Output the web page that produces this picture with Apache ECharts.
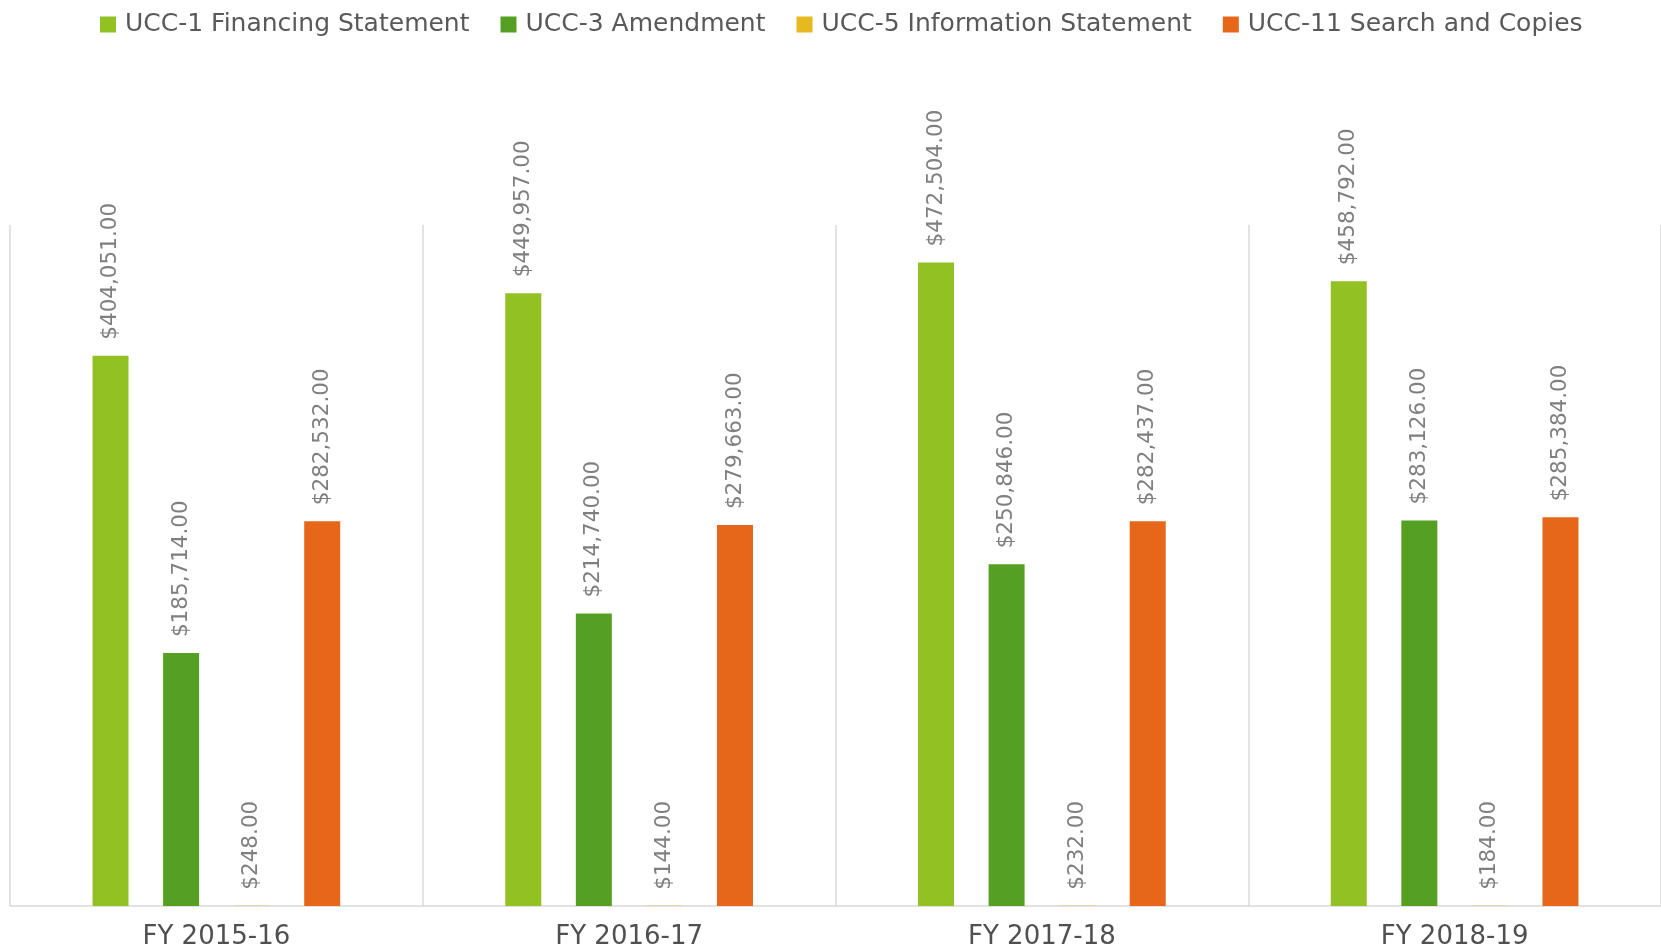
<!DOCTYPE html>
<html>
<head>
<meta charset="utf-8">
<script src="https://cdn.jsdelivr.net/npm/echarts@6/dist/echarts.min.js"></script>
<style>
html,body{margin:0;padding:0;background:#fff;}
#chart{width:1661px;height:950px;}
</style>
</head>
<body>
<div id="chart"></div>
<script>
var categories = ['FY 2015-16', 'FY 2016-17', 'FY 2017-18', 'FY 2018-19'];
var seriesNames = ['UCC-1 Financing Statement', 'UCC-3 Amendment', 'UCC-5 Information Statement', 'UCC-11 Search and Copies'];
var ucc1 = [404051, 449957, 472504, 458792];
var ucc3 = [185714, 214740, 250846, 283126];
var ucc5 = [248, 144, 232, 184];
var ucc11 = [282532, 279663, 282437, 285384];
var colors = ['#92C124', '#55A023', '#E5B91F', '#E6661A'];

function money(v) {
  var s = Math.round(v).toString().replace(/\B(?=(\d{3})+(?!\d))/g, ',');
  return '$' + s + '.00';
}

var allData = [ucc1, ucc3, ucc5, ucc11];
var series = allData.map(function (d, i) {
  return {
    name: seriesNames[i],
    type: 'bar',
    data: d,
    barWidth: 36,
    barGap: '96%',
    itemStyle: { color: colors[i] },
    label: {
      show: true,
      position: 'top',
      distance: 16,
      rotate: 90,
      align: 'left',
      verticalAlign: 'middle',
      color: '#7F7F7F',
      fontFamily: 'DejaVu Sans',
      fontSize: 21.5,
      formatter: function (p) { return money(p.value); }
    }
  };
});

var chart = echarts.init(document.getElementById('chart'), null, { renderer: 'canvas' });
chart.setOption({
  animation: false,
  backgroundColor: '#ffffff',
  color: colors,
  legend: {
    top: 7,
    left: 95,
    icon: 'rect',
    itemWidth: 16,
    itemHeight: 16,
    itemGap: 31,
    textStyle: {
      color: '#595959',
      fontFamily: 'DejaVu Sans',
      fontSize: 25,
      padding: [0, 0, 0, 4]
    },
    data: seriesNames
  },
  grid: { left: 10, right: -2, top: 225, bottom: 44, containLabel: false },
  xAxis: {
    type: 'category',
    data: categories,
    boundaryGap: true,
    axisTick: { show: false },
    axisLine: { show: true, lineStyle: { color: '#D9D9D9', width: 1.5 } },
    splitLine: { show: true, lineStyle: { color: '#D9D9D9', width: 1.5 } },
    axisLabel: {
      margin: 18,
      color: '#505050',
      fontFamily: 'DejaVu Sans',
      fontSize: 26
    }
  },
  yAxis: {
    type: 'value',
    min: 0,
    max: 500000,
    interval: 100000,
    show: false,
    splitLine: { show: false }
  },
  series: series
});
</script>
</body>
</html>
